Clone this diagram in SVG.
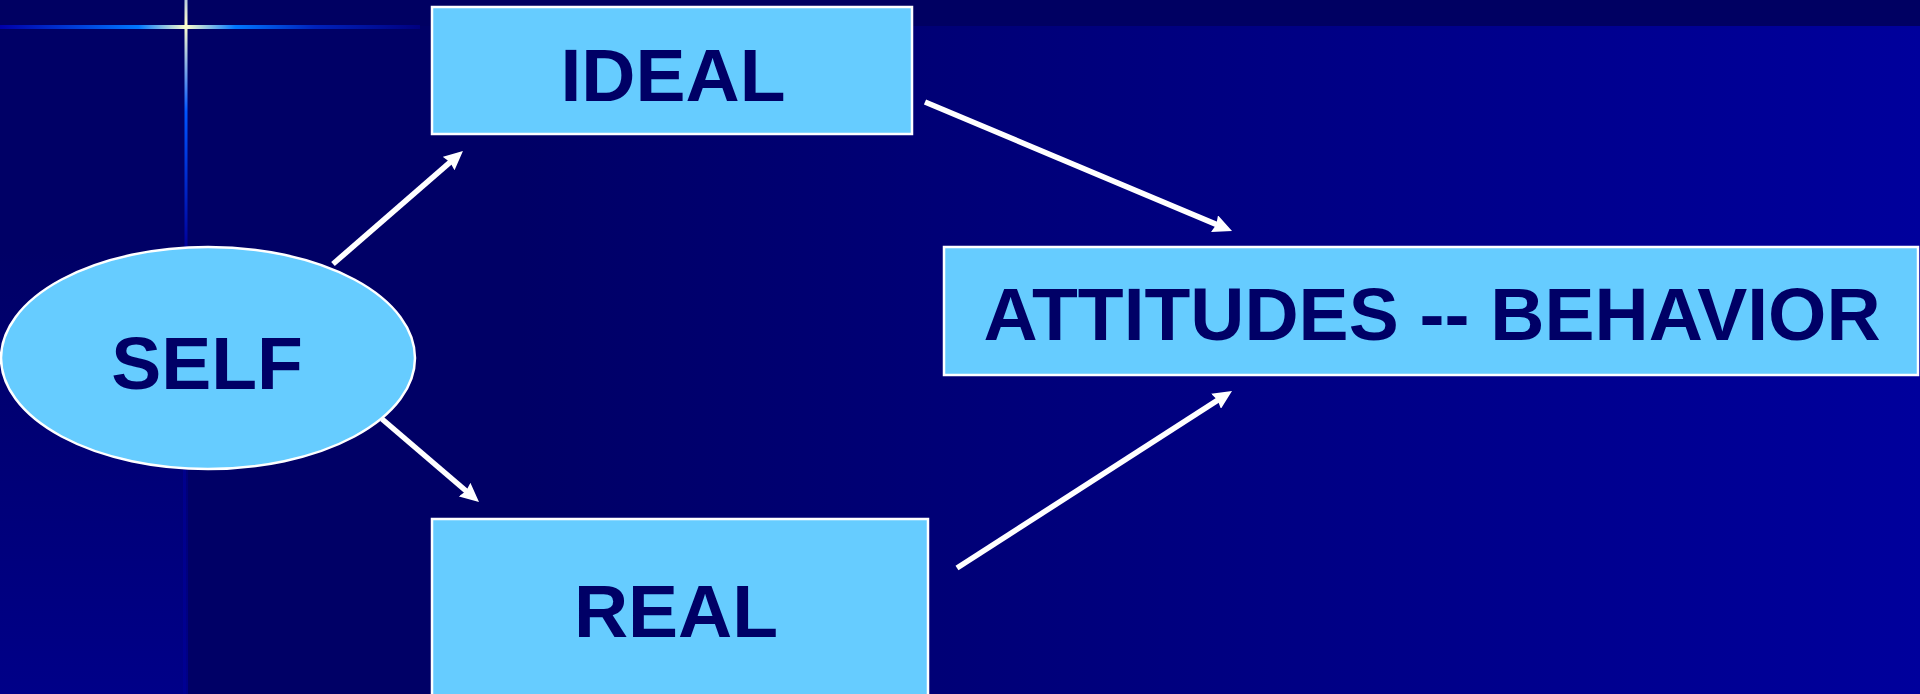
<svg xmlns="http://www.w3.org/2000/svg" width="1920" height="694" viewBox="0 0 1920 694">
  <defs>
    <linearGradient id="bgRight" gradientUnits="userSpaceOnUse" x1="520" y1="0" x2="1920" y2="0">
      <stop offset="0" stop-color="#000066"/>
      <stop offset="1" stop-color="#00009c"/>
    </linearGradient>
    <linearGradient id="bgLeft" gradientUnits="userSpaceOnUse" x1="0" y1="250" x2="0" y2="694">
      <stop offset="0" stop-color="#000066"/>
      <stop offset="1" stop-color="#000088"/>
    </linearGradient>
    <linearGradient id="hLine" gradientUnits="userSpaceOnUse" x1="0" y1="0" x2="420" y2="0">
      <stop offset="0" stop-color="#0000aa"/>
      <stop offset="0.2" stop-color="#0044dd"/>
      <stop offset="0.33" stop-color="#0077ff"/>
      <stop offset="0.443" stop-color="#ffffcc"/>
      <stop offset="0.56" stop-color="#0077ff"/>
      <stop offset="0.75" stop-color="#0022bb"/>
      <stop offset="1" stop-color="#000080"/>
    </linearGradient>
    <linearGradient id="vLine" gradientUnits="userSpaceOnUse" x1="0" y1="0" x2="0" y2="248">
      <stop offset="0" stop-color="#bbccdd"/>
      <stop offset="0.1" stop-color="#ffffcc"/>
      <stop offset="0.45" stop-color="#0055ff"/>
      <stop offset="1" stop-color="#000099"/>
    </linearGradient>
    <marker id="arrow" markerUnits="userSpaceOnUse" markerWidth="19" markerHeight="18" refX="9" refY="9" orient="auto">
      <path d="M0,0 L19,9 L0,18 L2,9 z" fill="#ffffff"/>
    </marker>
    <style>
      .node { fill: #66ccff; stroke: #ffffff; stroke-width: 2.5; }
      .label { font-family: "Liberation Sans", Arial, sans-serif; font-weight: bold; font-size: 75px; fill: #000066; text-anchor: middle; }
      .conn { stroke: #ffffff; stroke-width: 5.5; fill: none; marker-end: url(#arrow); }
    </style>
  </defs>

  <g id="background">
    <rect x="0" y="0" width="1920" height="694" fill="#000066"/>
    <rect x="188" y="26" width="1732" height="668" fill="url(#bgRight)"/>
    <rect x="0" y="26" width="188" height="668" fill="url(#bgLeft)"/>
    <rect x="0" y="0" width="1920" height="26" fill="#000062"/>
    <rect x="183" y="250" width="3" height="444" fill="#000099" opacity="0.6"/>
    <rect x="0" y="25" width="420" height="4" fill="url(#hLine)"/>
    <rect x="184.5" y="0" width="3" height="248" fill="url(#vLine)"/>
  </g>

  <g id="connectors">
    <line class="conn" x1="333" y1="264" x2="455.4" y2="157.6"/>
    <line class="conn" x1="382" y1="419" x2="471.4" y2="495.5"/>
    <line class="conn" x1="925" y1="102" x2="1222.8" y2="227.1"/>
    <line class="conn" x1="957" y1="568" x2="1223.6" y2="396.4"/>
  </g>

  <g id="node-self">
    <ellipse class="node" cx="208" cy="358" rx="207" ry="111"/>
    <text class="label" x="207" y="389">SELF</text>
  </g>

  <g id="node-ideal">
    <rect class="node" x="432" y="7" width="480" height="127"/>
    <text class="label" x="673" y="101">IDEAL</text>
  </g>

  <g id="node-real">
    <rect class="node" x="432" y="519" width="496" height="190"/>
    <text class="label" x="676" y="637">REAL</text>
  </g>

  <g id="node-attitudes">
    <rect class="node" x="944" y="247" width="974" height="128"/>
    <text class="label" x="1432" y="340">ATTITUDES -- BEHAVIOR</text>
  </g>
</svg>
